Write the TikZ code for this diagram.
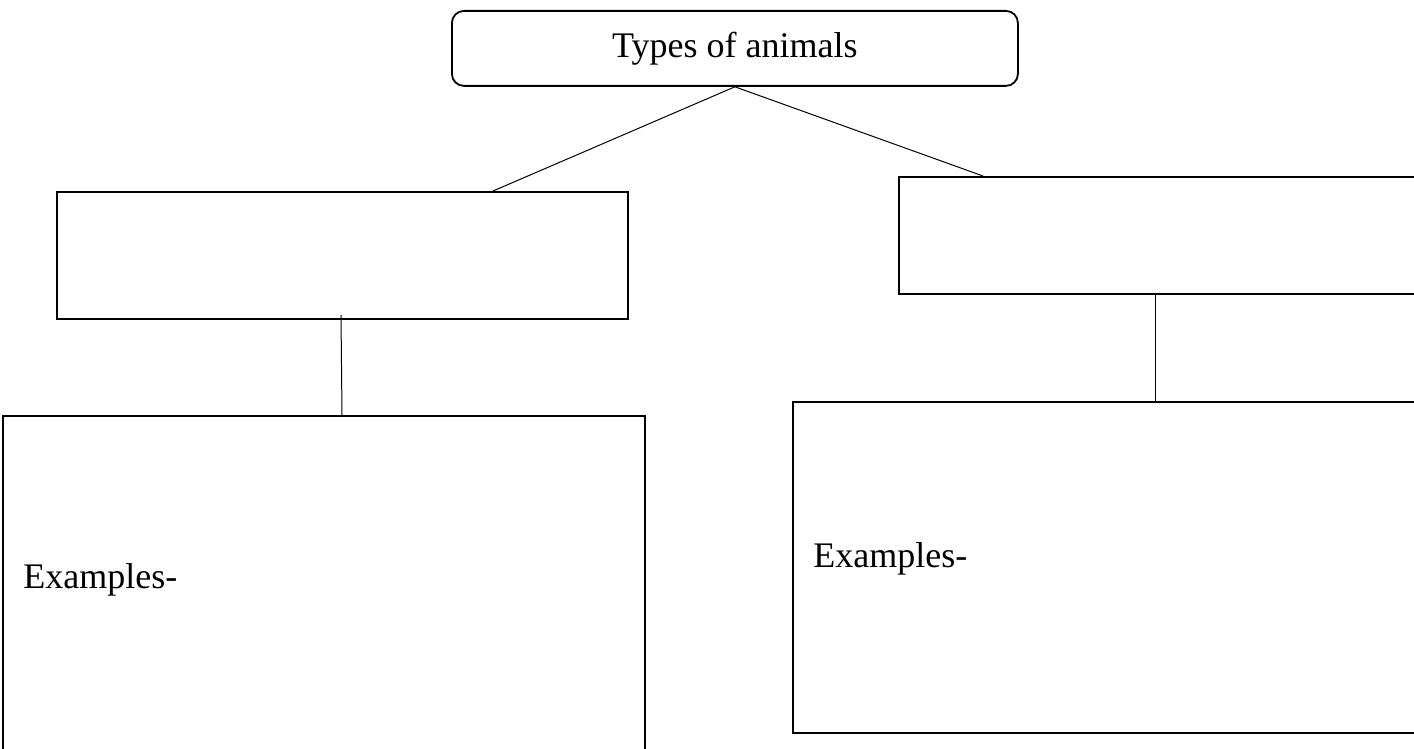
\documentclass[tikz,border=0pt]{standalone}
\usepackage{fontspec}
\setmainfont{Liberation Serif}
\usetikzlibrary{calc}
\begin{document}
\begin{tikzpicture}[x=0.5pt,y=-0.5pt,
  boxstyle/.style={draw,line width=1pt,inner sep=0pt,anchor=north west,rectangle},
  topstyle/.style={draw,line width=0.9pt,rounded corners=6pt,inner sep=0pt,anchor=north west,
    minimum width=283pt,minimum height=37.5pt,font=\fontsize{18}{21}\selectfont},
  link/.style={line width=0.5pt},
  lbl/.style={anchor=base west,inner sep=0pt,font=\fontsize{18}{21}\selectfont}]
\useasboundingbox (0,0) rectangle (1414,749);
\fill[white] (0,0) rectangle (1414,749);
\clip (0,0) rectangle (1414,749);
\node[topstyle] (top) at (451,10) {Types of animals};
\node[boxstyle,minimum width=285.5pt,minimum height=63.5pt] (l1) at (56,191) {};
\node[boxstyle,minimum width=275pt,minimum height=58.5pt] (r1) at (898,176) {};
\node[boxstyle,minimum width=321pt,minimum height=180pt] (l2) at (2,415) {};
\node[boxstyle,minimum width=320pt,minimum height=165.5pt] (r2) at (792,401) {};
\node[lbl] (lt) at (23,588) {Examples-};
\node[lbl] (rt) at (813,567) {Examples-};
\coordinate (lj) at ($(l1.north west)+(437,0)$);
\coordinate (rj) at ($(r1.north west)+(85,0)$);
\draw[link] (top.south) -- (lj);
\draw[link] (top.south) -- (rj);
\coordinate (lv) at (341,315);
\coordinate (lw) at (342,415);
\draw[link] (lv) -- (lw);
\coordinate (rv) at (1155,293);
\coordinate (rw) at (1155,401);
\draw[link] (rv) -- (rw);
\end{tikzpicture}
\end{document}
